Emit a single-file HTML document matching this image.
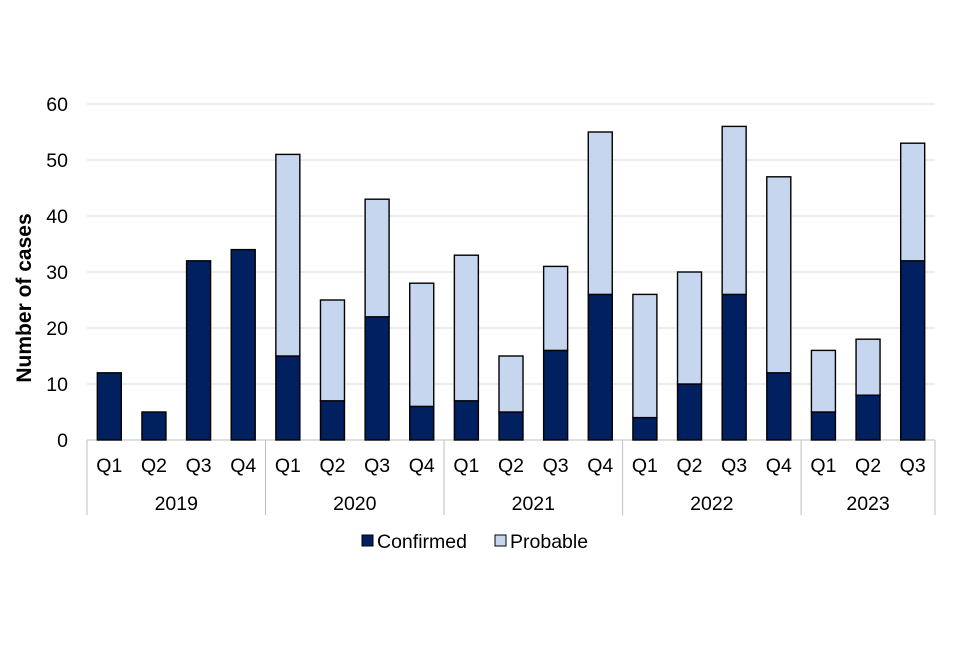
<!DOCTYPE html>
<html><head><meta charset="utf-8"><style>
body{margin:0;background:#fff;font-family:"Liberation Sans",Arial,sans-serif;}
</style></head><body>
<svg id="chart" width="960" height="640" xmlns="http://www.w3.org/2000/svg" font-family="Liberation Sans, Arial, sans-serif"></svg>
<script>
const quarters=["Q1","Q2","Q3","Q4","Q1","Q2","Q3","Q4","Q1","Q2","Q3","Q4","Q1","Q2","Q3","Q4","Q1","Q2","Q3"];
const years=["2019","2020","2021","2022","2023"];
const yearCounts=[4,4,4,4,3];
const confirmed=[12,5,32,34,15,7,22,6,7,5,16,26,4,10,26,12,5,8,32];
const probable=[0,0,0,0,36,18,21,22,26,10,15,29,22,20,30,35,11,10,21];
const yTicks=[0,10,20,30,40,50,60];

const svg=document.getElementById('chart');
const NS="http://www.w3.org/2000/svg";
const x0=87,x1=935,yBase=440,yTop=104,yMax=60;
const step=(x1-x0)/quarters.length;
const bw=24;
function y(v){return yBase-(v/yMax)*(yBase-yTop);}
function xc(i){return x0+step*(i+0.5);}
function mk(tag,attrs,text){const e=document.createElementNS(NS,tag);for(const k in attrs)e.setAttribute(k,attrs[k]);if(text!==undefined)e.textContent=text;svg.appendChild(e);return e;}

yTicks.forEach(t=>{
  const g=mk('line',{x1:x0,x2:x1,y1:y(t),y2:y(t),stroke:t===0?'#bfbfbf':'#d9d9d9','stroke-width':1});
  
  
  const l=mk('text',{x:x0-19,y:y(t)+7,'text-anchor':'end','font-size':19.5,fill:'#000'},t);
  
  
});

quarters.forEach((q,i)=>{
  const cx=xc(i);
  const c=mk('rect',{x:cx-bw/2,y:y(confirmed[i]),width:bw,height:y(0)-y(confirmed[i]),fill:'#002060',stroke:'#000','stroke-width':1.4});
  
  
  if(probable[i]>0){
    const top=confirmed[i]+probable[i];
    const p=mk('rect',{x:cx-bw/2,y:y(top),width:bw,height:y(confirmed[i])-y(top),fill:'#c6d6ef',stroke:'#000','stroke-width':1.4});
    
    
  }
  const t=mk('text',{x:cx,y:472,'text-anchor':'middle','font-size':19.5,fill:'#000'},q);
  
  
});

let idx=0;
const sep=mk('line',{x1:x0,x2:x0,y1:440,y2:515,stroke:'#bfbfbf','stroke-width':1});


years.forEach((yr,k)=>{
  const start=idx,end=idx+yearCounts[k];
  const xs=x0+step*start,xe=x0+step*end;
  const l=mk('line',{x1:xe,x2:xe,y1:440,y2:515,stroke:'#bfbfbf','stroke-width':1});
  
  
  const t=mk('text',{x:(xs+xe)/2,y:510,'text-anchor':'middle','font-size':19.5,fill:'#000'},yr);
  
  
  idx=end;
});

const yt=mk('text',{x:0,y:0,transform:'translate(31,298) rotate(-90)','text-anchor':'middle','font-size':21,'font-weight':'bold',fill:'#000'},'Number of cases');



const lc=mk('rect',{x:362,y:535,width:11,height:11,fill:'#002060',stroke:'#000','stroke-width':1});


const lct=mk('text',{x:377,y:548,'font-size':19.5,fill:'#000'},'Confirmed');


const lp=mk('rect',{x:495,y:535,width:11,height:11,fill:'#c6d6ef',stroke:'#000','stroke-width':1});


const lpt=mk('text',{x:510,y:548,'font-size':19.5,fill:'#000'},'Probable');


</script>
</body></html>
